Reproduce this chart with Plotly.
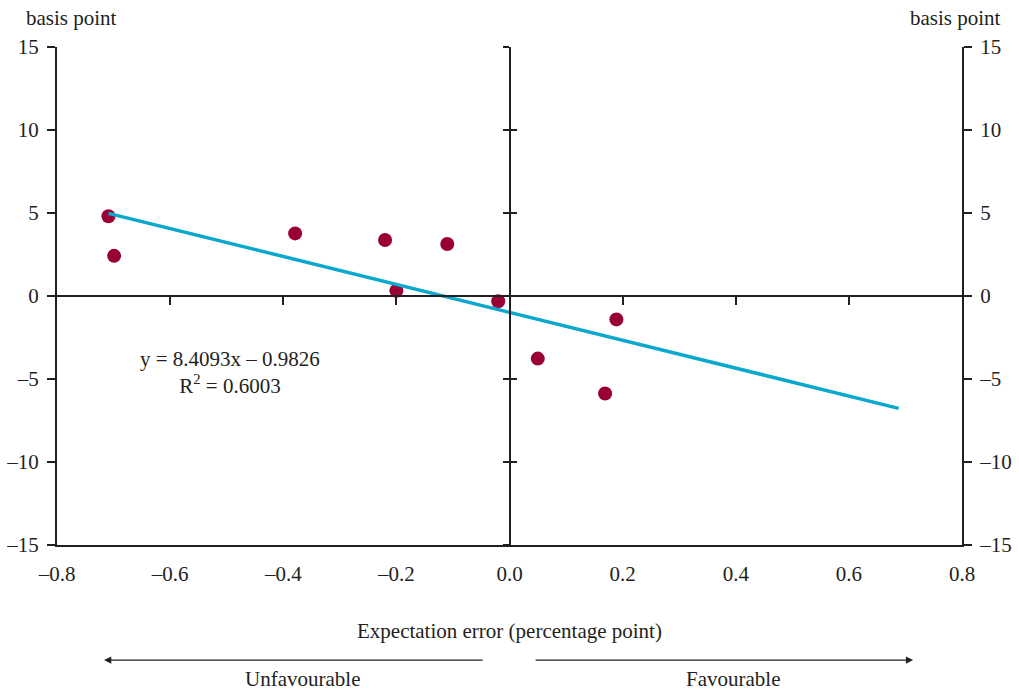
import plotly.graph_objects as go

# Data
exp_error = [-0.709, -0.699, -0.379, -0.220, -0.200, -0.110, -0.020, 0.050, 0.189, 0.169]
bp_change = [4.80, 2.42, 3.77, 3.37, 0.32, 3.13, -0.32, -3.77, -1.41, -5.87]
slope = -8.4093
intercept = -0.9826
trend_x_range = [-0.709, 0.688]
trend_y = [slope * v + intercept for v in trend_x_range]

x_ticks = [-0.8, -0.6, -0.4, -0.2, 0.0, 0.2, 0.4, 0.6, 0.8]
x_ticklabels = ["\u20130.8", "\u20130.6", "\u20130.4", "\u20130.2", "0.0", "0.2", "0.4", "0.6", "0.8"]
y_ticks = [-15, -10, -5, 0, 5, 10, 15]
y_ticklabels = ["\u201315", "\u201310", "\u20135", "0", "5", "10", "15"]
equation_text = "y = 8.4093x \u2013 0.9826<br>R<sup>2</sup> = 0.6003"

FONT = "Liberation Serif"
INK = "#231F20"
FS = 21

fig = go.Figure()
fig.add_trace(go.Scatter(x=exp_error, y=bp_change, mode="markers",
                         marker=dict(color="#990033", size=14), showlegend=False))
fig.add_trace(go.Scatter(x=trend_x_range, y=trend_y, mode="lines",
                         line=dict(color="#0AA8CC", width=3.5), showlegend=False, hoverinfo="skip"))

axis_common = dict(showgrid=False, zeroline=False, linecolor=INK, linewidth=2, tickcolor=INK,
                   tickwidth=2, automargin=False)

fig.update_layout(
    width=1019, height=690,
    margin=dict(l=57, r=57, t=47, b=145, autoexpand=False),
    paper_bgcolor="white", plot_bgcolor="white",
    font=dict(family=FONT, size=FS, color=INK),
    xaxis=dict(range=[-0.8, 0.8], tickvals=x_ticks, ticktext=x_ticklabels,
               showline=True, ticks="outside", ticklen=9, tickcolor="rgba(0,0,0,0)",
               showgrid=False, zeroline=False, linecolor=INK, linewidth=2, anchor="y",
               automargin=False),
    xaxis2=dict(range=[-0.8, 0.8], overlaying="x", anchor="free", position=0.5,
                tickvals=[-0.6, -0.4, -0.2, 0.2, 0.4, 0.6], ticks="outside", ticklen=8,
                showticklabels=False, showline=True, **axis_common),
    yaxis=dict(range=[-15, 15], tickvals=y_ticks, ticktext=y_ticklabels, ticks="outside",
               ticklen=8, ticklabelstandoff=4, showline=True, anchor="x", **axis_common),
    yaxis2=dict(range=[-15, 15], tickvals=y_ticks, ticktext=y_ticklabels, ticks="outside",
                ticklen=8, ticklabelstandoff=4, showline=True, overlaying="y", side="right",
                anchor="x", **axis_common),
    yaxis3=dict(range=[-15, 15], tickvals=[-15, -10, -5, 5, 10, 15], ticks="outside", ticklen=6,
                showticklabels=False, showline=True, overlaying="y", anchor="free", position=0.5,
                **axis_common),
    yaxis4=dict(range=[-15, 15], tickvals=[-15, -10, -5, 5, 10, 15], ticks="inside", ticklen=6,
                showticklabels=False, showline=False, overlaying="y", anchor="free", position=0.5,
                **axis_common),
)

# dummy traces so overlay axes render
fig.add_trace(go.Scatter(x=[None], y=[None], xaxis="x2", yaxis="y", showlegend=False))
fig.add_trace(go.Scatter(x=[None], y=[None], xaxis="x", yaxis="y2", showlegend=False))
fig.add_trace(go.Scatter(x=[None], y=[None], xaxis="x", yaxis="y3", showlegend=False))
fig.add_trace(go.Scatter(x=[None], y=[None], xaxis="x", yaxis="y4", showlegend=False))

ann = [
    dict(text="basis point", x=0.016, y=1.058, xref="paper", yref="paper", showarrow=False,
         xanchor="center", yanchor="middle"),
    dict(text="basis point", x=0.993, y=1.058, xref="paper", yref="paper", showarrow=False,
         xanchor="center", yanchor="middle"),
    dict(text=equation_text, x=-0.494, y=-4.6, xref="x", yref="y", showarrow=False,
         align="center", xanchor="center", yanchor="middle"),
    dict(text="Expectation error (percentage point)", x=0.5, y=-0.172, xref="paper", yref="paper",
         showarrow=False, xanchor="center", yanchor="middle"),
    dict(text="Unfavourable", x=0.271, y=-0.269, xref="paper", yref="paper",
         showarrow=False, xanchor="center", yanchor="middle"),
    dict(text="Favourable", x=0.747, y=-0.269, xref="paper", yref="paper",
         showarrow=False, xanchor="center", yanchor="middle"),
    dict(text="", x=0.052, y=-0.231, xref="paper", yref="paper", showarrow=True,
         ax=380, ay=0, axref="pixel", ayref="pixel", arrowhead=2, arrowsize=1.2,
         arrowwidth=1.2, arrowcolor=INK),
    dict(text="", x=0.946, y=-0.231, xref="paper", yref="paper", showarrow=True,
         ax=-379, ay=0, axref="pixel", ayref="pixel", arrowhead=2, arrowsize=1.2,
         arrowwidth=1.2, arrowcolor=INK),
]
fig.update_layout(annotations=ann)

fig.write_html("out.html")
